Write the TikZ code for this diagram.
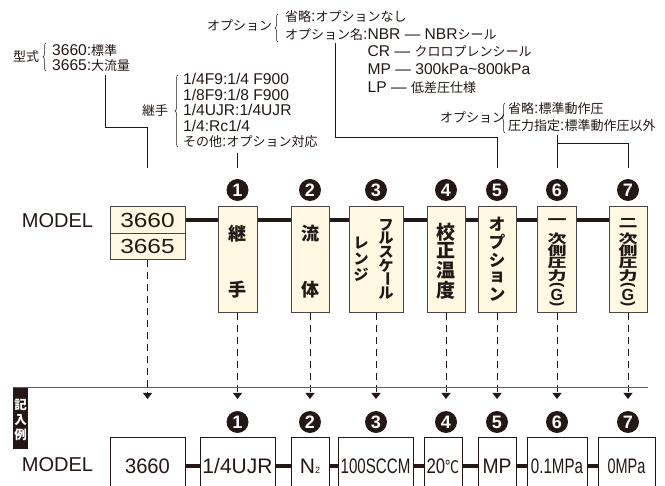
\documentclass[tikz,border=0pt]{standalone}
\usepackage{fontspec}
\usepackage{graphicx}
\usetikzlibrary{arrows.meta,decorations.pathreplacing}
\setmainfont{Liberation Sans}[Scale=1.2]
\newfontfamily\jpfont{Noto Sans CJK JP}
\XeTeXinterchartokenstate=1
\newXeTeXintercharclass\JPclass
\newcount\jpcnt
\newcommand\setjprange[2]{\jpcnt=#1\relax
  \loop\XeTeXcharclass\jpcnt=\JPclass
  \ifnum\jpcnt<#2\relax\advance\jpcnt by 1\relax\repeat}
\setjprange{"3000}{"30FF}
\setjprange{"4E00}{"9FFF}
\setjprange{"FF00}{"FFEF}
\XeTeXcharclass"2103=\JPclass
\XeTeXinterchartoks 0 \JPclass = {\begingroup\jpfont}
\XeTeXinterchartoks 4095 \JPclass = {\begingroup\jpfont}
\XeTeXinterchartoks \JPclass 0 = {\endgroup}
\XeTeXinterchartoks \JPclass 4095 = {\endgroup}
\definecolor{ink}{RGB}{35,24,21}
\definecolor{cream}{RGB}{255,248,226}
\definecolor{edge}{RGB}{75,70,65}
\definecolor{sepc}{RGB}{95,95,95}
\newcommand\vrot[1]{\rotatebox[origin=c]{-90}{#1}}
\newcommand\sq[1]{\scalebox{1}[0.66]{\fontsize{19}{19}\selectfont #1}}
\newcommand\vpar[1]{\rotatebox[origin=c]{-90}{\fontsize{13}{13}\selectfont #1}}
\newcommand\vG{{\fontsize{13.5}{14}\selectfont G}}
\begin{document}
\begin{tikzpicture}[x=1pt,y=-1pt,
  lbl/.style={anchor=base west, inner sep=0pt, text=ink, font=\fontsize{13}{16}\selectfont},
  brc/.style={draw=ink, line width=0.5pt, decorate, decoration={brace, amplitude=3pt}},
  lead/.style={draw=ink, line width=0.9pt},
  num/.style={circle, fill=ink, text=white, inner sep=0pt, minimum size=22pt, font=\bfseries\fontsize{15}{15}\selectfont},
  ubox/.style={draw=edge, fill=cream, line width=1pt, minimum height=106pt, inner sep=0pt, text=ink},
  vk/.style={text=ink, inner sep=0pt},
  mainln/.style={draw=ink, line width=3.5pt},
  dashlead/.style={draw=ink, line width=1pt, dash pattern=on 7pt off 5pt, -{Triangle[width=9pt,length=6pt]}},
  sepln/.style={draw=sepc, line width=1pt},
  bbox/.style={draw=ink, line width=1pt, fill=white, minimum height=56pt, inner sep=0pt, text=ink, font=\fontsize{17.5}{20}\selectfont},
  model/.style={text=ink, inner sep=0pt, font=\fontsize{16.7}{20}\selectfont}
]
\useasboundingbox (0,0) rectangle (665,486);
\clip (0,0) rectangle (665,486);

% ---- annotations
\node[lbl] (kata) at (13,61.5) {型式};
\draw[brc] (46,71) -- (46,43);
\node[lbl] (kataA) at (52,56) {3660:標準};
\node[lbl] (kataB) at (52,71) {3665:大流量};

\node[lbl] (tsu) at (142,116) {継手};
\draw[brc] (178,147) -- (178,75);
\node[lbl] (tsA) at (183,84.5) {1/4F9:1/4 F900};
\node[lbl] (tsB) at (183,100.1) {1/8F9:1/8 F900};
\node[lbl] (tsC) at (183,115.7) {1/4UJR:1/4UJR};
\node[lbl] (tsD) at (183,131.3) {1/4:Rc1/4};
\node[lbl] (tsE) at (183,146.9) {その他:オプション対応};

\node[lbl] (op1) at (207,31) {オプション};
\draw[brc] (278,42) -- (278,14);
\node[lbl] (op1A) at (285,22) {省略:オプションなし};
\node[lbl] (op1B) at (285,39.5) {オプション名:NBR — NBRシール};
\node[lbl] (op1C) at (367.5,57) {CR — クロロプレンシール};
\node[lbl] (op1D) at (367.5,75) {MP — 300kPa\textasciitilde 800kPa};
\node[lbl] (op1E) at (367.5,93) {LP — 低差圧仕様};

\node[lbl] (op2) at (440,122.5) {オプション};
\draw[brc] (505,133) -- (505,103);
\node[lbl] (op2A) at (508,114) {省略:標準動作圧};
\node[lbl] (op2B) at (508,131) {圧力指定:標準動作圧以外};

% ---- leaders
\coordinate (k0) at (105,75); \coordinate (k1) at (147.5,168);
\draw[lead] (k0) -- ++(0,52) -| (k1);
\coordinate (t0) at (237.5,153); \coordinate (t1) at (237.5,168);
\draw[lead] (t0) -- (t1);
\coordinate (q0) at (335,43); \coordinate (q1) at (497,168);
\draw[lead] (q0) -- ++(0,94) -| (q1);
\coordinate (r0) at (557,135); \coordinate (r1) at (557,168);
\coordinate (r2) at (557,143); \coordinate (r3) at (628,168);
\draw[lead] (r0) -- (r1);
\draw[lead] (r2) -| (r3);

% ---- model row
\node[model] (mdl1) at (57.5,221) {MODEL};
\node[ubox, minimum width=75pt, minimum height=26.5pt] (b0a) at (147.5,220.25) {\fontsize{17}{20}\selectfont\scalebox{1.2}[1]{3660}};
\node[ubox, minimum width=75pt, minimum height=26.5pt] (b0b) at (147.5,246.75) {\fontsize{17}{20}\selectfont\scalebox{1.2}[1]{3665}};
\node[ubox, minimum width=39pt] (u1) at (237.5,260) {};
\node[ubox, minimum width=38pt] (u2) at (310,260) {};
\node[ubox, minimum width=54pt] (u3) at (376,260) {};
\node[ubox, minimum width=38pt] (u4) at (446,260) {};
\node[ubox, minimum width=38pt] (u5) at (497,260) {};
\node[ubox, minimum width=39pt] (u6) at (557,260) {};
\node[ubox, minimum width=38pt] (u7) at (628,260) {};
\foreach \a/\b in {b0a/u1,u1/u2,u2/u3,u3/u4,u4/u5,u5/u6,u6/u7}
  \draw[mainln] (\a.east |- b0a.east) -- (\b.west |- b0a.east);

% vertical texts
\foreach \ch/\yy [count=\i] in {継/234,手/290}
  \node[vk, font=\bfseries\fontsize{18}{18}\selectfont] (va\i) at (237.5,\yy) {\ch};
\foreach \ch/\yy [count=\i] in {流/234,体/290}
  \node[vk, font=\bfseries\fontsize{18}{18}\selectfont] (vb\i) at (310,\yy) {\ch};
\foreach \ch/\yy [count=\i] in {フ/225,ル/238.6,ス/252.2,ケ/265.8,\vrot{ー}/279.4,ル/293}
  \node[vk, font=\bfseries\fontsize{15}{15}\selectfont] (vc\i) at (386,\yy) {\ch};
\foreach \ch/\yy [count=\i] in {レ/243,ン/259,ジ/275}
  \node[vk, font=\bfseries\fontsize{15}{15}\selectfont] (vd\i) at (361,\yy) {\ch};
\foreach \ch/\yy [count=\i] in {校/232,正/251,温/270,度/290}
  \node[vk, font=\bfseries\fontsize{19}{19}\selectfont] (ve\i) at (446,\yy) {\ch};
\foreach \ch/\yy [count=\i] in {オ/224,プ/242,シ/260,ョ/277.5,ン/294.5}
  \node[vk, font=\bfseries\fontsize{16.5}{17}\selectfont] (vf\i) at (497,\yy) {\ch};
\foreach \ch/\yy [count=\i] in {\sq{一}/222,\sq{次}/238.5,\sq{側}/251,\sq{圧}/263.5,\sq{力}/276,\vpar{(}/286,\vG/295,\vpar{)}/305}
  \node[vk, font=\bfseries] (vg\i) at (557,\yy) {\ch};
\foreach \ch/\yy [count=\i] in {\sq{二}/223,\sq{次}/238.5,\sq{側}/251,\sq{圧}/263.5,\sq{力}/276,\vpar{(}/286,\vG/295,\vpar{)}/305}
  \node[vk, font=\bfseries] (vh\i) at (628,\yy) {\ch};

% numbers
\foreach \n/\xx in {1/237.5,2/310,3/376,4/446,5/497,6/557,7/628} {
  \node[num] (n\n) at (\xx,190) {\n};
  \node[num] (m\n) at (\xx,422) {\n};
}

% dashed leads
\foreach \b/\xx in {b0b/147.5,u1/237.5,u2/310,u3/376,u4/446,u5/497,u6/557,u7/628} {
  \coordinate (e\b) at (\xx,399);
  \draw[dashlead] (\b.south) -- (e\b);
}

% separator and label
\coordinate (s0) at (13,388); \coordinate (s1) at (648,388);
\draw[sepln] (s0) -- (s1);
\node[fill=ink, minimum width=15pt, minimum height=61pt, inner sep=0pt, anchor=north west] (kinyu) at (13,388) {};
\foreach \ch/\yy [count=\i] in {記/405,入/420,例/435}
  \node[text=white, inner sep=0pt, font=\bfseries\fontsize{12.5}{13}\selectfont] (kc\i) at (20.5,\yy) {\ch};

% example row
\node[model] (mdl2) at (57.5,465) {MODEL};
\node[bbox, minimum width=75pt] (c0) at (147.5,466) {\scalebox{0.96}[1]{3660}};
\node[bbox, minimum width=75pt] (c1) at (237.5,466) {1/4UJR};
\node[bbox, minimum width=38pt] (c2) at (310,466) {N{\fontsize{7.5}{8}\selectfont 2}};
\node[bbox, minimum width=75pt] (c3) at (375.5,466) {\scalebox{0.72}[1]{100SCCM}};
\node[bbox, minimum width=38pt] (c4) at (443,466) {\scalebox{0.8}[1]{20℃}};
\node[bbox, minimum width=38pt] (c5) at (497,466) {\scalebox{0.92}[1]{MP}};
\node[bbox, minimum width=60pt] (c6) at (557,466) {\scalebox{0.72}[1]{0.1MPa}};
\node[bbox, minimum width=57pt] (c7) at (626.5,466) {\scalebox{0.69}[1]{0MPa}};
\foreach \a/\b in {c0/c1,c1/c2,c2/c3,c3/c4,c4/c5,c5/c6,c6/c7}
  \draw[mainln] (\a.east) -- (\b.west);
\end{tikzpicture}
\end{document}
